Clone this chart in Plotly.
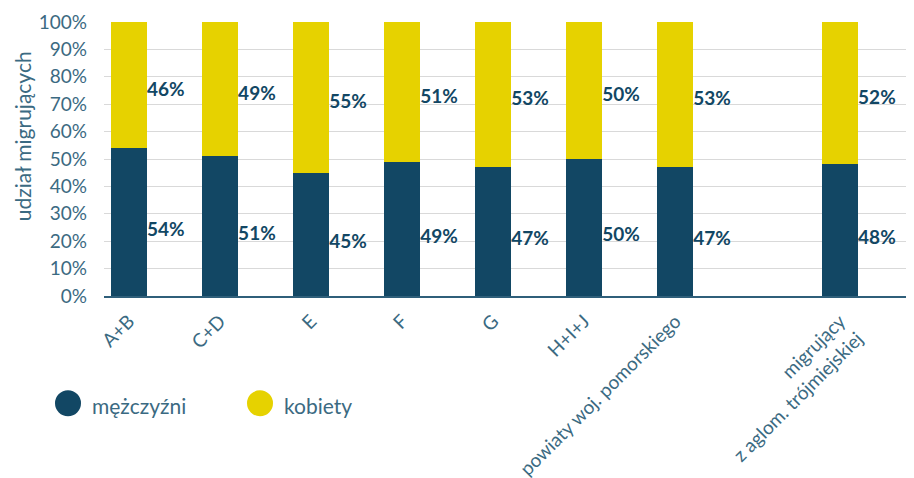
import plotly.graph_objects as go

categories = ["A+B", "C+D", "E", "F", "G", "H+I+J", "powiaty woj. pomorskiego",
              "migrujący<br>z aglom. trójmiejskiej"]
men = [54, 51, 45, 49, 47, 50, 47, 48]
women = [46, 49, 55, 51, 53, 50, 53, 52]
y_ticks = [0, 10, 20, 30, 40, 50, 60, 70, 80, 90, 100]
y_tick_labels = [f"{v}%" for v in y_ticks]

# layout: x positions (gap before the last category)
xpos = [0, 1, 2, 3, 4, 5, 6, 7.81]
bar_w = 0.396

DARK = "#124764"
YELLOW = "#E6D200"
TICK = "#3b6a82"
FONT = "Lato"

W, H = 914, 478
OFF = 8  # page body margin offset
PL, PR, PT, PB = 104, 912, 21.7, 295.7  # target plot area in screenshot pixels
ml = PL - OFF
mt = PT - OFF
mr = W - (PR - OFF)
mb = H - (PB - OFF)
pw = PR - PL
ph = PB - PT


def px(p):
    return (p - PL) / pw


def py(p):
    return (PB - p) / ph


fig = go.Figure()
fig.add_trace(go.Bar(x=xpos, y=men, width=bar_w, marker=dict(color=DARK, line=dict(width=0)),
                     name="mężczyźni", showlegend=False))
fig.add_trace(go.Bar(x=xpos, y=women, width=bar_w, marker=dict(color=YELLOW, line=dict(width=0)),
                     name="kobiety", showlegend=False))

lab_x = [p + bar_w / 2 for p in xpos]
fig.add_trace(go.Scatter(x=lab_x, y=[m / 2 - 3.3 for m in men], mode="text",
                         text=[f"{m}%" for m in men], textposition="middle right",
                         textfont=dict(family=FONT, size=19, color=DARK, weight="bold"),
                         showlegend=False, hoverinfo="skip"))
fig.add_trace(go.Scatter(x=lab_x, y=[m + w / 2 - 2.2 for m, w in zip(men, women)], mode="text",
                         text=[f"{w}%" for w in women], textposition="middle right",
                         textfont=dict(family=FONT, size=19, color=DARK, weight="bold"),
                         showlegend=False, hoverinfo="skip"))

fig.update_layout(
    width=W, height=H,
    margin=dict(l=ml, r=mr, t=mt, b=mb, autoexpand=False),
    barmode="stack",
    plot_bgcolor="white", paper_bgcolor="white",
    font=dict(family=FONT, color=TICK),
    showlegend=False,
    xaxis=dict(range=[-0.275, 8.6], tickmode="array", tickvals=xpos, ticktext=categories,
               tickangle=-45, tickfont=dict(size=19, color=TICK), showgrid=False,
               showline=True, linecolor="#2f5f7a", linewidth=1.5, ticks="", zeroline=False,
               ticklabelstandoff=5, automargin=False),
    yaxis=dict(range=[0, 100], tickmode="array", tickvals=y_ticks, ticktext=y_tick_labels,
               tickfont=dict(size=19, color=TICK), showgrid=True, gridcolor="#d9d9d9",
               gridwidth=1, zeroline=False, ticks="", showline=False, automargin=False,
               ticklabelstandoff=16),
)

# y-axis title
fig.add_annotation(text="udział migrujących", xref="paper", yref="paper",
                   x=px(22), y=py(136), textangle=-90,
                   showarrow=False, font=dict(family=FONT, size=21, color=TICK),
                   xanchor="center", yanchor="middle")

# custom legend with circles
for cx, col, txt, tx in [(68, DARK, "mężczyźni", 90), (260, YELLOW, "kobiety", 282)]:
    fig.add_shape(type="circle", xref="paper", yref="paper", xsizemode="pixel", ysizemode="pixel",
                  xanchor=px(cx), yanchor=py(403), x0=-13, x1=13, y0=-13, y1=13,
                  fillcolor=col, line=dict(width=0))
    fig.add_annotation(text=txt, xref="paper", yref="paper", x=px(tx), y=py(405),
                       showarrow=False, xanchor="left", yanchor="middle",
                       font=dict(family=FONT, size=21, color=TICK))

fig.write_html("out.html")
